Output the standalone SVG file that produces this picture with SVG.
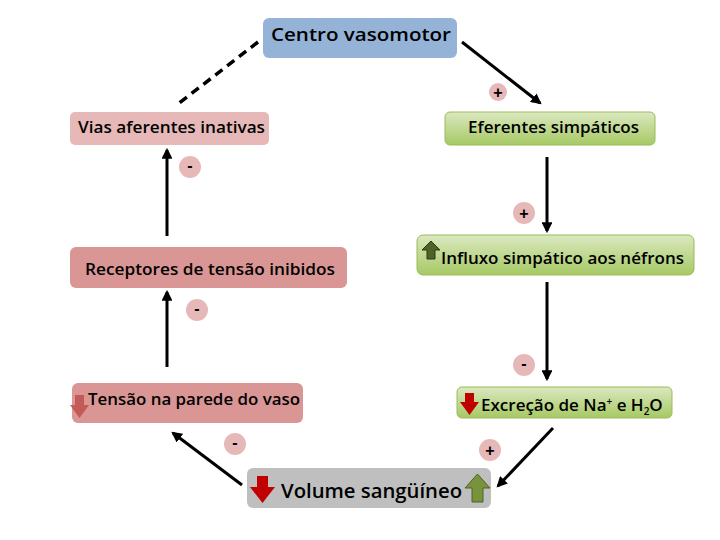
<svg xmlns="http://www.w3.org/2000/svg" width="720" height="540" viewBox="0 0 720 540">
<defs>
<linearGradient id="g" x1="0" y1="0" x2="0" y2="1">
<stop offset="0" stop-color="#dbe8c0"/><stop offset="1" stop-color="#a6c964"/>
</linearGradient>
<marker id="ah" viewBox="0 0 10 10" refX="8" refY="5" markerWidth="3.6" markerHeight="3.6" orient="auto">
<path d="M0,0 L10,5 L0,10 Z" fill="#000"/>
</marker>
<style>
.t{font-family:"Open Sans","Liberation Sans",sans-serif;font-weight:600;fill:#000;}
.c{fill:#e6b9b8;}
.s{font-family:"Liberation Sans",sans-serif;font-weight:bold;font-size:16px;text-anchor:middle;fill:#000;}
.ln{stroke:#000;stroke-width:3;fill:none;marker-end:url(#ah);}
.gr{fill:url(#g);stroke:#9bbb59;stroke-width:1;}
</style>
</defs>
<rect width="720" height="540" fill="#fff"/>
<g id="connectors">
<line x1="258" y1="42" x2="178" y2="104" stroke="#000" stroke-width="3.5" stroke-dasharray="9,6"/>
<line class="ln" x1="462" y1="42" x2="540" y2="103"/>
<line class="ln" x1="547" y1="157" x2="547" y2="231"/>
<line class="ln" x1="547" y1="282" x2="547" y2="379"/>
<line class="ln" x1="553" y1="428" x2="498" y2="486"/>
<line class="ln" x1="242" y1="485" x2="173" y2="433"/>
<line class="ln" x1="167" y1="367" x2="167" y2="292"/>
<line class="ln" x1="167" y1="236" x2="167" y2="150"/>
<circle class="c" cx="498" cy="92" r="9"/><text class="s" x="498" y="98">+</text>
<circle class="c" cx="190" cy="167" r="11"/><text class="s" x="190" y="171">-</text>
<circle class="c" cx="524" cy="213" r="11"/><text class="s" x="524" y="219">+</text>
<circle class="c" cx="197" cy="310" r="11"/><text class="s" x="197" y="314">-</text>
<circle class="c" cx="524" cy="365" r="11"/><text class="s" x="524" y="369">-</text>
<circle class="c" cx="490" cy="450" r="11"/><text class="s" x="490" y="456">+</text>
<circle class="c" cx="235" cy="444" r="11"/><text class="s" x="235" y="448">-</text>
</g>
<g id="centro">
<rect x="263" y="18" width="194" height="40" rx="6" fill="#95b3d7"/>
<text class="t" x="271" y="41" font-size="18" textLength="180" lengthAdjust="spacingAndGlyphs">Centro vasomotor</text>
</g>
<g id="vias">
<rect x="70" y="112" width="199" height="33" rx="5" fill="#e6b9b8"/>
<text class="t" x="78" y="133" font-size="16" textLength="187" lengthAdjust="spacingAndGlyphs">Vias aferentes inativas</text>
</g>
<g id="eferentes">
<rect class="gr" x="445" y="112" width="210" height="33" rx="5"/>
<text class="t" x="468" y="133" font-size="16" textLength="171" lengthAdjust="spacingAndGlyphs">Eferentes simpáticos</text>
</g>
<g id="receptores">
<rect x="70" y="247" width="277" height="41" rx="6" fill="#d99694"/>
<text class="t" x="85" y="275" font-size="16" textLength="250" lengthAdjust="spacingAndGlyphs">Receptores de tensão inibidos</text>
</g>
<g id="influxo">
<rect class="gr" x="417" y="235" width="277" height="40" rx="6"/>
<path d="M431,241 L440,250 L435,250 L435,259 L427,259 L427,250 L422,250 Z" fill="#4f6228" stroke="#2e3a16" stroke-width="1"/>
<text class="t" x="441" y="264" font-size="16" textLength="243" lengthAdjust="spacingAndGlyphs">Influxo simpático aos néfrons</text>
</g>
<g id="tensao">
<rect x="72" y="383" width="231" height="40" rx="6" fill="#d99694"/>
<path d="M75,395 L84,395 L84,405 L89,405 L79.5,418 L70,405 L75,405 Z" fill="#c0504d" opacity="0.85"/>
<text class="t" x="88" y="405" font-size="16" textLength="212" lengthAdjust="spacingAndGlyphs">Tensão na parede do vaso</text>
</g>
<g id="excrecao">
<rect class="gr" x="457" y="387" width="215" height="31" rx="5"/>
<path d="M465,393 L474,393 L474,402 L479,402 L469.5,415 L460,402 L465,402 Z" fill="#c00000"/>
<text class="t" x="481" y="411" font-size="17">Excreção de Na<tspan font-size="10" dy="-6">+</tspan><tspan dy="6"> e H</tspan><tspan font-size="10" dy="4">2</tspan><tspan dy="-4">O</tspan></text>
</g>
<g id="volume">
<rect x="247" y="468" width="244" height="40" rx="6" fill="#bfbfbf"/>
<path d="M257,476 L268,476 L268,487 L275,487 L262.5,503 L250,487 L257,487 Z" fill="#c00000"/>
<text class="t" x="281" y="498" font-size="20" font-weight="normal" textLength="181" lengthAdjust="spacingAndGlyphs">Volume sangüíneo</text>
<path d="M477.5,474 L490,488 L483,488 L483,502 L472,502 L472,488 L465,488 Z" fill="#77933c" stroke="#4f6228" stroke-width="1"/>
</g>
</svg>
